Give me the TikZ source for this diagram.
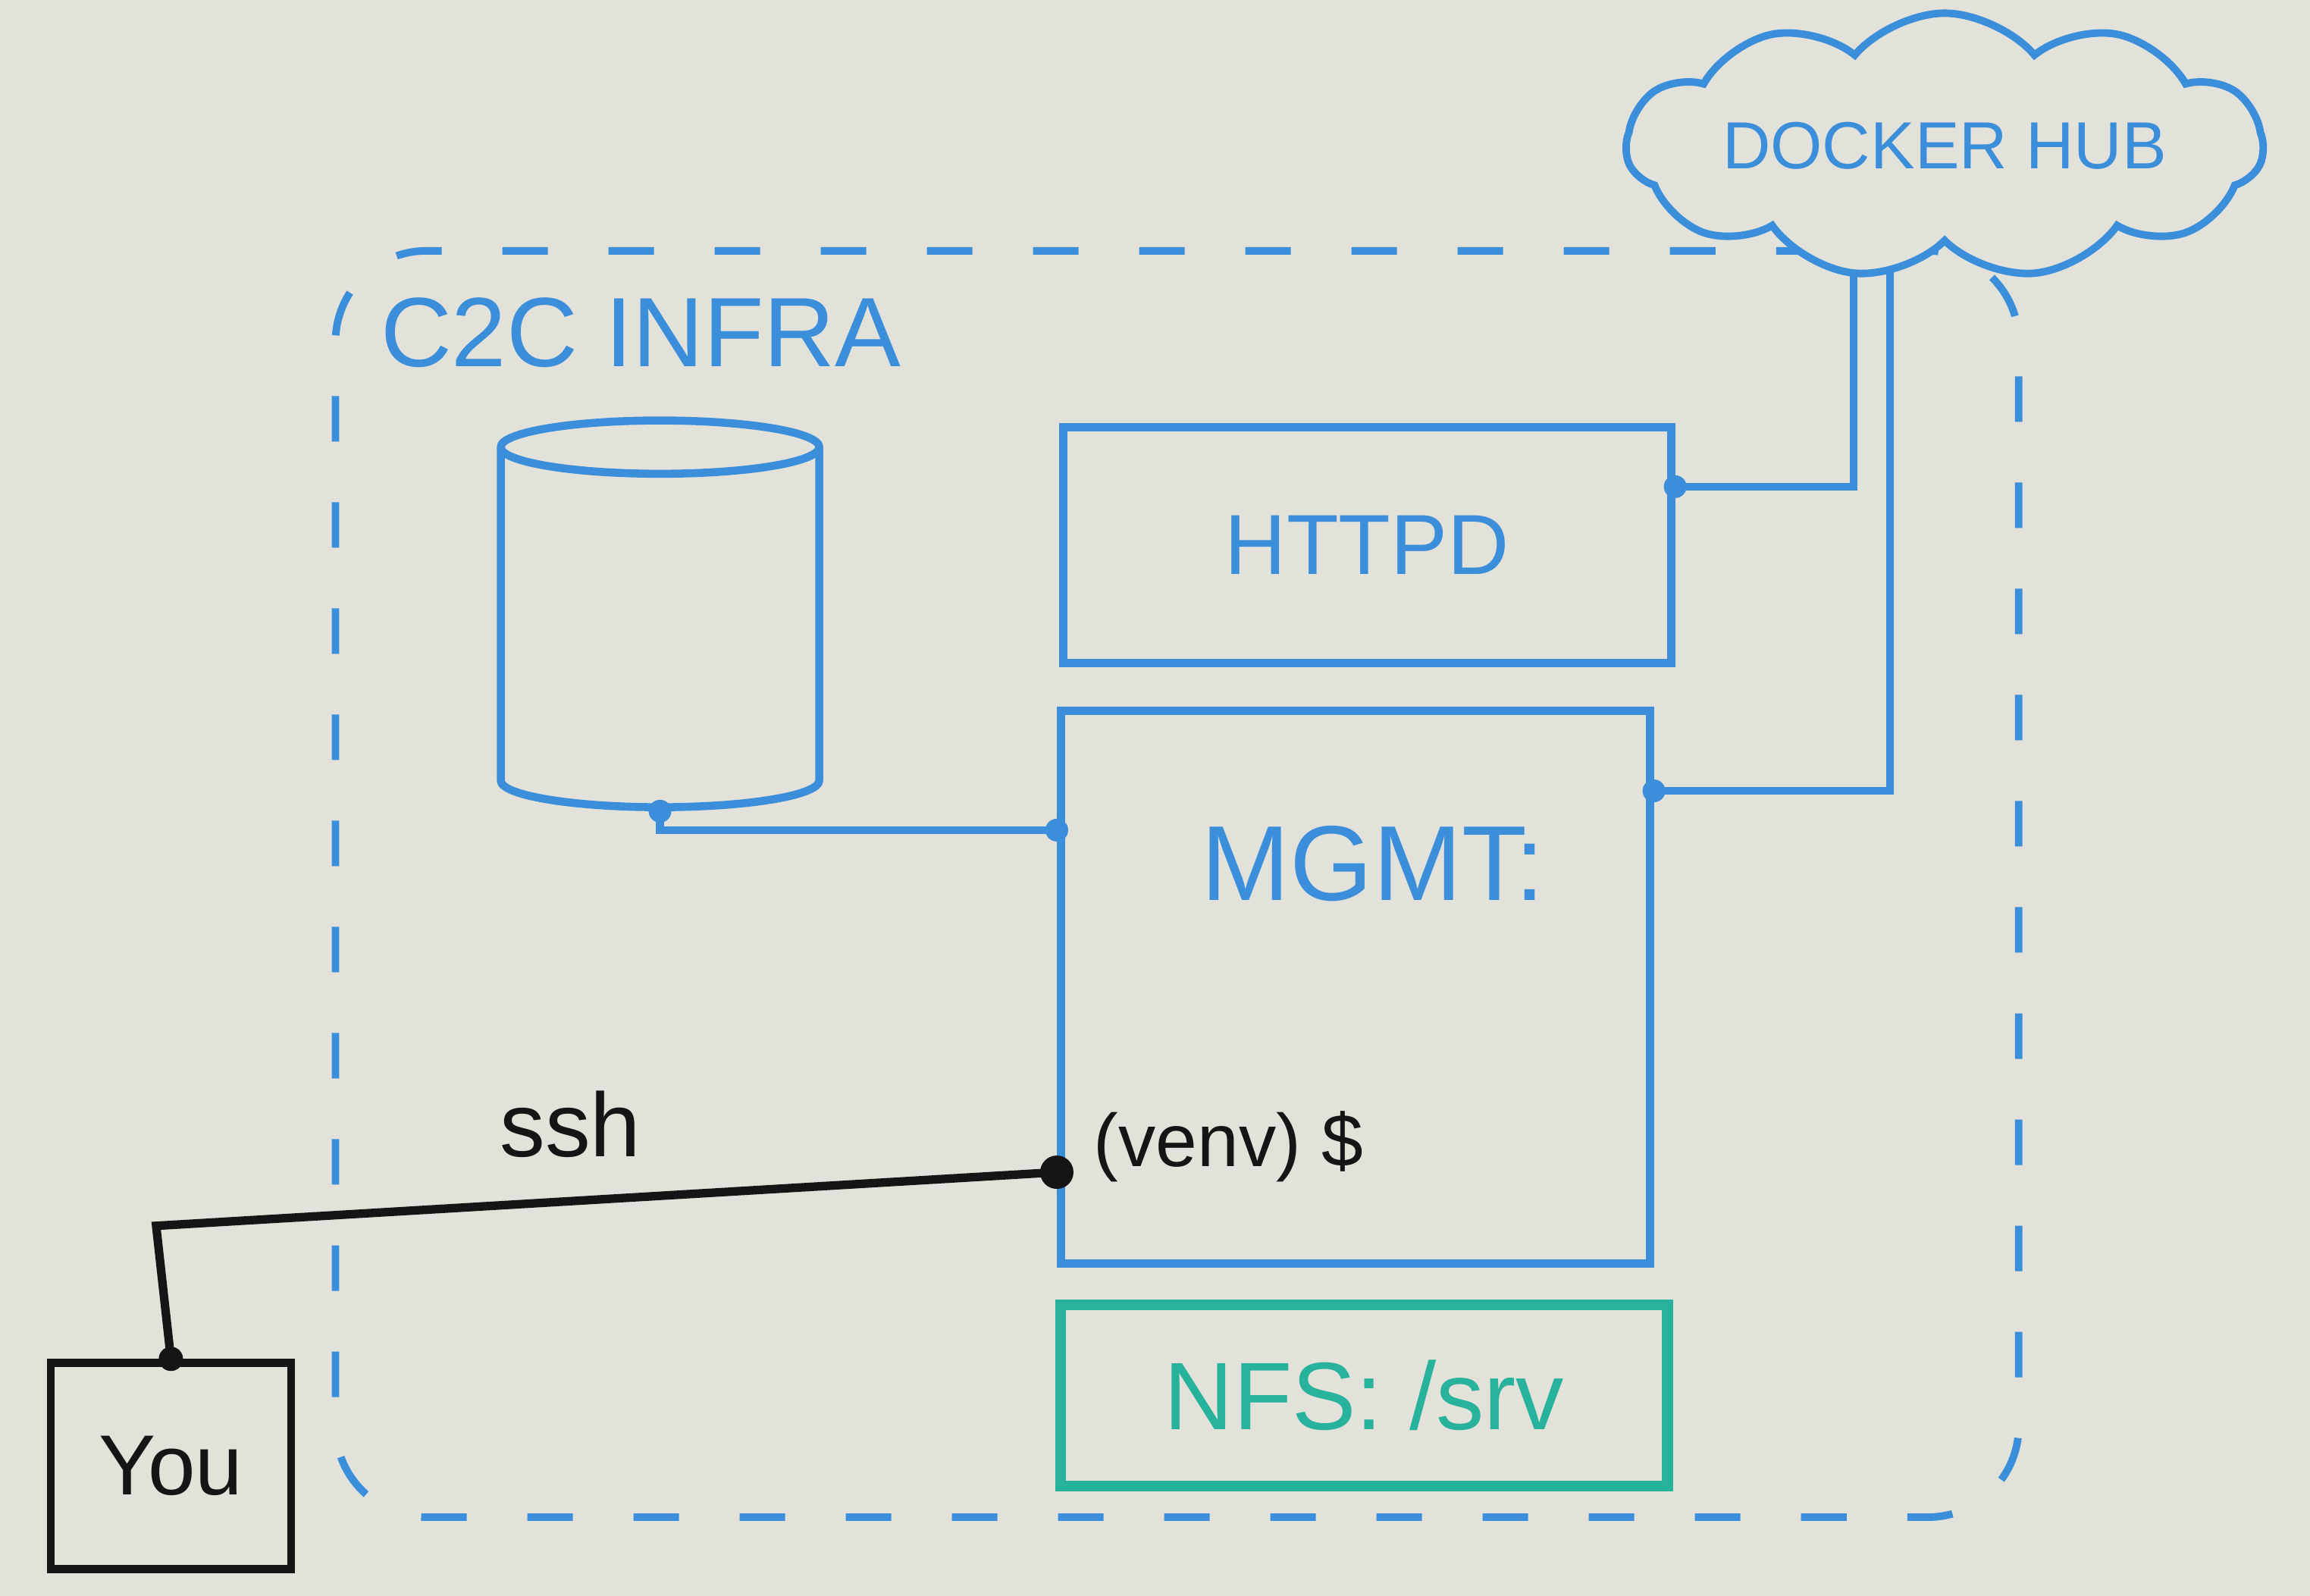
\documentclass[tikz,border=0pt]{standalone}
\usepackage{fontspec}
\setmainfont{Liberation Sans}
\usetikzlibrary{shapes,backgrounds,calc}

\definecolor{board}{RGB}{226,225,218}
\definecolor{marker}{RGB}{58,142,218}
\definecolor{nfsgreen}{RGB}{38,178,155}
\definecolor{ink}{RGB}{22,20,20}

\begin{document}
\begin{tikzpicture}[
x=0.1943mm, y=-0.1943mm,
box/.style={
  draw=marker,
  line width=3pt,
  inner sep=0pt,
  text=marker
  },
txt/.style={
  text=marker,
  inner sep=0pt
  },
wire/.style={
  draw=marker,
  line width=3pt
  },
bdot/.style={
  circle,
  fill=marker,
  inner sep=0pt,
  minimum size=3mm
  },
kdot/.style={
  circle,
  fill=ink,
  inner sep=0pt,
  minimum size=4.4mm
  }
]
\begin{pgfonlayer}{background}
\fill[board] (0,0) rectangle (1568,1083);
\end{pgfonlayer}
\useasboundingbox (0,0) rectangle (1568,1083);

% the infra frame
\node[draw=marker, line width=2.8pt, dash pattern=on 6mm off 8mm,
  rounded corners=12mm, minimum width=222mm, minimum height=167mm]
  (infra) at (799,600) {};
\node[txt, anchor=west, font=\fontsize{37}{42}\selectfont] (infralbl) at (258,226) {C2C INFRA};

% boxes
\node[box, minimum width=80.2mm, minimum height=31.1mm,
  font=\fontsize{32}{36}\selectfont] (httpd) at (928,370) {HTTPD};
\node[box, minimum width=77.7mm, minimum height=72.9mm] (mgmt) at (920,670) {};
\node[txt, font=\fontsize{40}{44}\selectfont] (mgmtlbl) at (932,586) {MGMT:};
\node[text=ink, anchor=west, inner sep=0pt,
  font=\fontsize{28}{32}\selectfont] (venv) at (742,778) {(venv) \$};
\node[box, draw=nfsgreen, text=nfsgreen, line width=4pt, minimum width=80mm,
  minimum height=23.9mm, font=\fontsize{36}{40}\selectfont] (nfs) at (926,947) {NFS: /srv};
\node[cylinder, shape border rotate=90, draw=marker, line width=3pt, aspect=3,
  minimum width=42mm, minimum height=51mm] (db) at (448,430) {};
\node[cloud, cloud puffs=11, cloud puff arc=100, cloud ignores aspect, draw=marker,
  fill=board, line width=2.8pt, inner sep=0pt, minimum width=84mm, minimum height=35mm,
  text=marker, font=\fontsize{25}{29}\selectfont] (hub) at (1320,99) {DOCKER HUB};
\node[box, draw=ink, text=ink, minimum width=31.7mm, minimum height=27.2mm,
  font=\fontsize{32}{36}\selectfont] (you) at (116,995) {You};

% connectors
\coordinate (httpdout) at ($(httpd.north east)!0.26!(httpd.south east)$);
\coordinate (mgmtout) at ($(mgmt.north east)!0.15!(mgmt.south east)$);
\coordinate (mgmtin) at ($(mgmt.north west)!0.22!(mgmt.south west)$);
\coordinate (sshin) at ($(mgmt.north west)!0.83!(mgmt.south west)$);
\coordinate (hubl) at ([xshift=-12mm]hub.center);
\coordinate (hubr) at ([xshift=-7.2mm]hub.center);
\coordinate (bend) at (106,832);

\begin{pgfonlayer}{background}
\draw[wire] (httpdout) -| (hubl);
\draw[wire] (mgmtout) -| (hubr);
\end{pgfonlayer}
\draw[wire] (db.south) |- (mgmtin);
\draw[ink, line width=3.2pt] (sshin) -- node[pos=0.54, above=4mm, text=ink,
  font=\fontsize{34}{38}\selectfont] (sshlbl) {ssh} (bend) -- (you.north);

\foreach \p in {httpdout,mgmtout,mgmtin,db.south}
  \node[bdot] (dot-\p) at (\p) {};
\node[kdot] (dotssh) at (sshin) {};
\node[kdot, minimum size=3.2mm] (dotyou) at (you.north) {};

\end{tikzpicture}
\end{document}
